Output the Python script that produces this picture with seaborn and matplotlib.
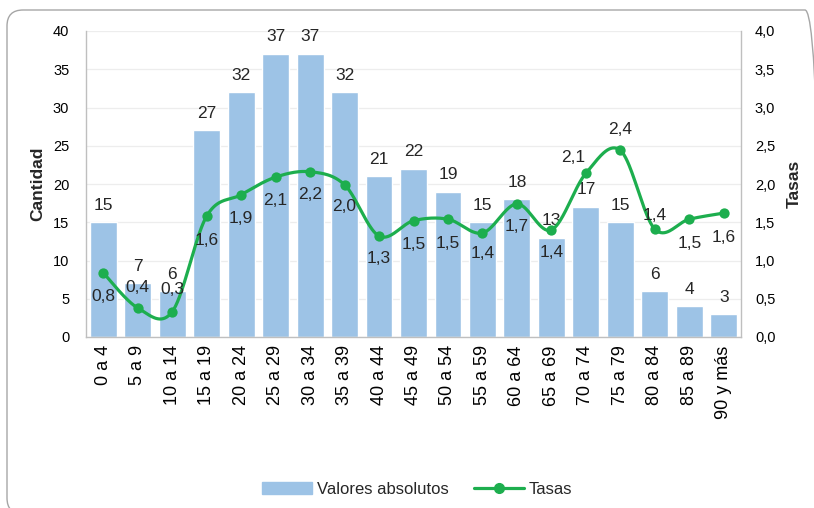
import numpy as np
import pandas as pd
import matplotlib
matplotlib.use("Agg")
import matplotlib.pyplot as plt
import matplotlib.transforms as mtransforms
from matplotlib.patches import FancyBboxPatch, Patch
from matplotlib.lines import Line2D
from matplotlib.ticker import FuncFormatter
import seaborn as sns

categories = ["0 a 4", "5 a 9", "10 a 14", "15 a 19", "20 a 24", "25 a 29",
              "30 a 34", "35 a 39", "40 a 44", "45 a 49", "50 a 54", "55 a 59",
              "60 a 64", "65 a 69", "70 a 74", "75 a 79", "80 a 84", "85 a 89",
              "90 y más"]
cantidad = [15, 7, 6, 27, 32, 37, 37, 32, 21, 22, 19, 15, 18, 13, 17, 15, 6, 4, 3]
tasas = [0.84, 0.38, 0.33, 1.58, 1.86, 2.09, 2.16, 1.99, 1.32, 1.52, 1.54,
         1.36, 1.74, 1.40, 2.14, 2.44, 1.41, 1.54, 1.62]

# label offsets (pixels) for the rate labels -- style only
rate_label_offsets = [(0, -24), (0, 20), (0, 22), (0, -24), (0, -24), (0, -23),
                      (0, -23), (0, -22), (0, -22), (0, -24), (0, -24), (0, -21),
                      (0, -23), (0, -23), (-13, 16), (0, 21), (0, 14), (0, -24),
                      (0, -24)]

BAR = "#9DC3E6"
GREEN = "#1DAE4E"
SPINE = "#BFBFBF"

sns.set_style("white")
plt.rcParams["font.family"] = ["Liberation Sans", "DejaVu Sans"]

df = pd.DataFrame({"grupo": categories, "cantidad": cantidad, "tasas": tasas})

fig = plt.figure(figsize=(8.14, 5.08), dpi=100)
ax = fig.add_axes([86 / 814, 1 - 337 / 508, 655 / 814, 306 / 508])

sns.barplot(data=df, x="grupo", y="cantidad", order=categories, color=BAR,
            saturation=1, width=0.78, ax=ax, zorder=2)
ax.set_xlim(-0.5, len(categories) - 0.5)
ax.set_ylim(0, 40)
ax.set_yticks(np.arange(0, 41, 5))
ax.yaxis.grid(True, color="#EDEDED", lw=0.9, zorder=0)
ax.set_axisbelow(True)
ax.set_xlabel("")
ax.set_ylabel("Cantidad", fontsize=12.5, fontweight="bold")
ax.yaxis.set_label_coords(-0.062, 0.5)
ax.tick_params(axis="both", length=0, colors="black")
ax.tick_params(axis="y", labelsize=10.5, pad=12)
ax.tick_params(axis="x", labelsize=13, pad=6)
for lab in ax.get_xticklabels():
    lab.set_rotation(90)
for s in ["top", "right"]:
    ax.spines[s].set_visible(False)
for s in ["left", "bottom"]:
    ax.spines[s].set_color(SPINE)
    ax.spines[s].set_linewidth(1.0)

for i, v in enumerate(cantidad):
    ax.annotate(str(v), (i, v), xytext=(0, 17), textcoords="offset pixels",
                ha="center", va="center", fontsize=12.5, zorder=3)

ax2 = ax.twinx()
ax2.set_ylim(0, 4)
ax2.set_yticks(np.arange(0, 4.01, 0.5))
ax2.yaxis.set_major_formatter(FuncFormatter(lambda v, p: f"{v:.1f}".replace(".", ",")))
ax2.tick_params(axis="y", length=0, labelsize=10.5, pad=10, colors="black")
for s in ["top", "left", "bottom"]:
    ax2.spines[s].set_visible(False)
ax2.spines["right"].set_color(SPINE)
ax2.spines["right"].set_linewidth(1.0)
ax2.set_ylabel("Tasas", fontsize=12.5, fontweight="bold")
ax2.yaxis.set_label_coords(1.07, 0.5)

# smooth (Catmull-Rom style Bezier) line through the rate points
xs = np.arange(len(tasas), dtype=float)
ys = np.array(tasas, dtype=float)
px = np.concatenate([[xs[0]], xs, [xs[-1]]])
py = np.concatenate([[ys[0]], ys, [ys[-1]]])
t = np.linspace(0, 1, 40)
cx, cy = [], []
for k in range(len(xs) - 1):
    p0 = np.array([px[k], py[k]]); p1 = np.array([px[k + 1], py[k + 1]])
    p2 = np.array([px[k + 2], py[k + 2]]); p3 = np.array([px[k + 3], py[k + 3]])
    c1 = p1 + (p2 - p0) / 6.0
    c2 = p2 - (p3 - p1) / 6.0
    b = ((1 - t) ** 3)[:, None] * p1 + (3 * (1 - t) ** 2 * t)[:, None] * c1 + \
        (3 * (1 - t) * t ** 2)[:, None] * c2 + (t ** 3)[:, None] * p2
    cx.extend(b[:, 0]); cy.extend(b[:, 1])
ax2.plot(cx, cy, color=GREEN, lw=2.3, solid_capstyle="round", zorder=3)
sns.scatterplot(x=xs, y=ys, ax=ax2, color=GREEN, s=55, edgecolor=GREEN,
                linewidth=0, zorder=4, legend=False)

for i, v in enumerate(tasas):
    dx, dy = rate_label_offsets[i]
    ax2.annotate(f"{v:.1f}".replace(".", ","), (i, v), xytext=(dx, dy),
                 textcoords="offset pixels", ha="center", va="center",
                 fontsize=12.5, zorder=5)

handles = [Patch(facecolor=BAR, edgecolor=BAR),
           Line2D([0], [0], color=GREEN, lw=2.3, marker="o", markersize=7)]
fig.legend(handles, ["Valores absolutos", "Tasas"], loc="center",
           bbox_to_anchor=(417 / 814, 1 - 489 / 508), ncol=2, frameon=False,
           fontsize=12, handlelength=3.0, handletextpad=0.3, columnspacing=1.5)

border = FancyBboxPatch((7, -6), 814, 504,
                        boxstyle="round,pad=0,rounding_size=16",
                        transform=mtransforms.IdentityTransform(),
                        fill=False, edgecolor="#A6A6A6", linewidth=1.0)
fig.patches.append(border)

fig.savefig("out.png", dpi=100)
